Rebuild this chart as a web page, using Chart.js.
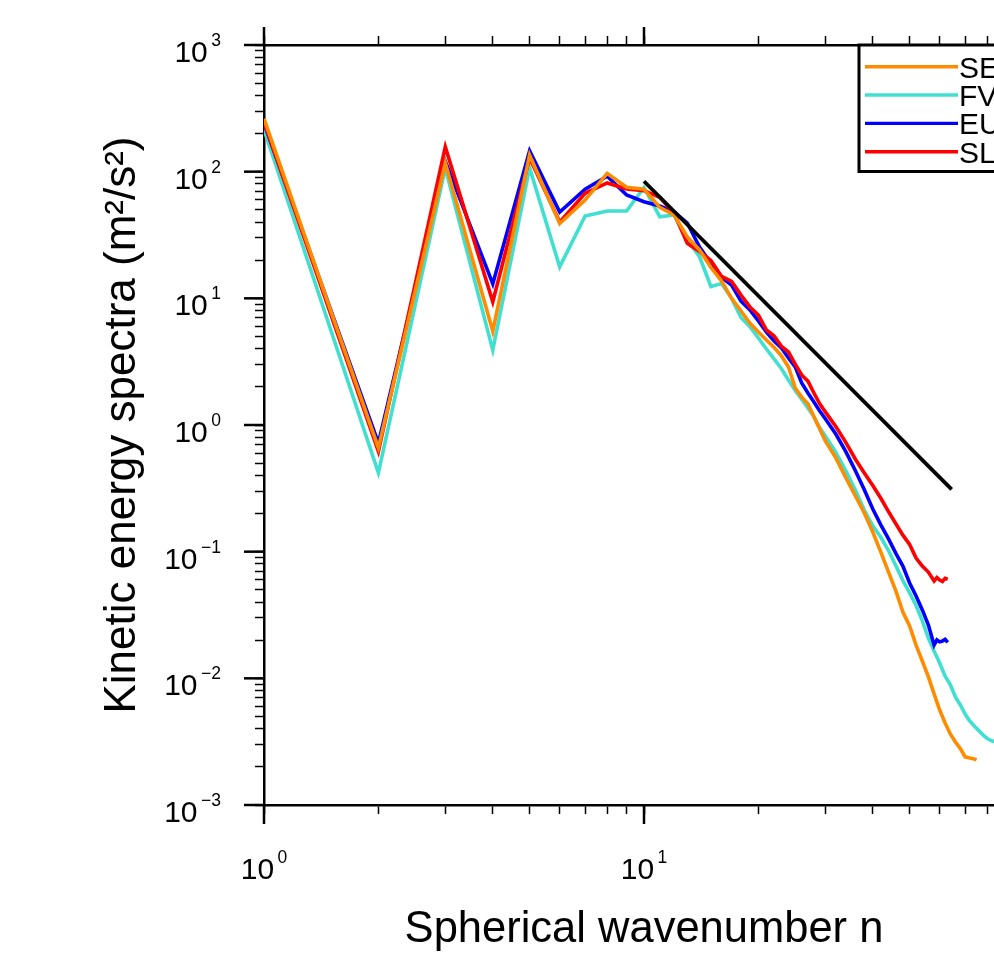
<!DOCTYPE html>
<html><head><meta charset="utf-8">
<script src="https://cdn.jsdelivr.net/npm/chart.js@4.4.1/dist/chart.umd.min.js"></script>
<style>html,body{margin:0;padding:0;overflow:hidden;background:#fff;width:994px;height:955px}canvas{display:block}</style>
</head><body>
<canvas id="c" width="1060" height="955" style="width:1060px;height:955px"></canvas>
<script>
// ---- data ----
const wavenumber = [1,2,3,4,5,6,7,8,9,10,11,12,13,14,15,16,17,18,19,20,21,22,23,24,25,26,27,28,29,30,
  32,34,36,38,40,42,44,46,48,50,52,54,56,58,59,60,61,62,63,64,66,68,70,72,74,75,76,78,80,82,84];
const seriesNames = ['SE','FV','EUL','SLD'];
const seriesColors = ['#FF8C00','#40E0D0','#0000FF','#FF0000'];
const seValues = [262,0.66,117,5.5,135,39,59.7,97,75.4,72.6,52.3,45.5,30.5,24.1,17.5,13.7,10.0,7.94,6.35,5.42,4.69,4.09,3.51,2.87,1.96,1.66,1.47,1.16,0.93,0.75,
  0.548,0.382,0.275,0.202,0.143,0.0993,0.069,0.049,0.0334,0.0259,0.0183,0.0137,0.0103,0.00753,null,0.00562,null,0.00444,null,0.00364,0.00314,0.00279,0.0024,0.00235,0.00231,0.00227,null,null,null,null,null];
const fvValues = [215,0.42,107,3.9,107,17.7,44.7,48.9,48.9,75,44.1,45.5,28.9,21.3,12.4,13.1,10.0,7.06,5.97,4.86,3.98,3.32,2.78,2.26,1.87,1.60,1.36,1.16,0.95,0.82,
  0.604,0.433,0.305,0.212,0.16,0.130,0.102,0.0774,0.0592,0.0472,0.0376,0.0284,0.0208,0.0164,null,0.0132,null,0.0104,null,0.0089,0.00713,0.00616,0.00522,0.0046,0.00421,null,0.00387,0.00357,0.00335,0.00323,0.00314];
const eulValues = [240,0.72,121,13.0,146,48,72.6,92,65.5,57.9,53.6,48.3,39.3,25.4,18.8,14.7,12.7,9.5,8.09,6.62,5.42,4.61,4.06,3.38,2.88,2.15,1.79,1.52,1.29,1.12,
  0.845,0.614,0.435,0.308,0.217,0.163,0.126,0.0969,0.077,0.0566,0.0447,0.0347,0.0265,0.0183,0.0201,0.0194,0.0197,0.0203,0.0192,null,null,null,null,null,null,null,null,null,null,null,null];
const sldValues = [245,0.62,157,9.4,128,40,67.5,81.5,73,70.8,62.8,46.9,27.2,23.4,19.9,14.9,13.6,10.6,8.55,7.38,5.62,5.04,4.18,3.77,3.03,2.48,2.22,1.79,1.47,1.27,
  0.97,0.726,0.537,0.418,0.333,0.264,0.207,0.166,0.135,0.114,0.089,0.077,0.069,0.0587,0.0625,0.0597,0.0581,0.0615,0.0605,null,null,null,null,null,null,null,null,null,null,null,null];
const refN = [10, 64.5];          // n^-3 reference line
const refValues = [84, 0.31];
const xDecades = [1, 10, 100];
const xTickExponents = ['0','1','2'];
const yDecades = [1e-3, 1e-2, 1e-1, 1, 10, 100, 1000];
const yTickExponents = ['\u22123','\u22122','\u22121','0','1','2','3'];
const xTitle = 'Spherical wavenumber n';
const yTitle = 'Kinetic energy spectra (m\u00B2/s\u00B2)';

// ---- helpers ----
const FAMILY = '"Liberation Sans", Arial, Helvetica, sans-serif';
function minorTicks(decades) {
  const out = [];
  for (let i = 0; i < decades.length - 1; i++) {
    for (let k = 1; k <= 9; k++) out.push(decades[i] * k);
  }
  out.push(decades[decades.length - 1]);
  return out;
}
const xMinor = minorTicks(xDecades);
const yMinor = minorTicks(yDecades);
function pts(values) { return wavenumber.map((n, i) => ({x: n, y: values[i]})); }

const allSeries = [seValues, fvValues, eulValues, sldValues];
const drawOrder = [1, 4, 3, 2];
const datasets = allSeries.map((vals, i) => ({
  label: seriesNames[i], data: pts(vals), borderColor: seriesColors[i], backgroundColor: seriesColors[i],
  borderWidth: 3.6, pointRadius: 0, spanGaps: true, tension: 0, order: drawOrder[i], fill: false
}));
datasets.push({label: 'ref', data: refN.map((n, i) => ({x: n, y: refValues[i]})), borderColor: '#000',
  borderWidth: 3.8, pointRadius: 0, tension: 0, order: 0, fill: false});

const gridOpts = {drawOnChartArea: false, drawTicks: true, tickLength: 9, tickWidth: 1.5, tickColor: '#000'};
const borderOpts = {display: true, color: '#000', width: 2.5};

const decor = {
  id: 'decor',
  afterDraw(chart) {
    const ctx = chart.ctx;
    const {left, right, top, bottom} = chart.chartArea;
    const sx = chart.scales.x, sy = chart.scales.y;
    ctx.save();
    ctx.strokeStyle = '#000'; ctx.lineWidth = 2.5; ctx.lineCap = 'butt';
    const seg = (a, b, c, d) => { ctx.beginPath(); ctx.moveTo(a, b); ctx.lineTo(c, d); ctx.stroke(); };
    xDecades.forEach(v => { const p = sx.getPixelForValue(v); seg(p, bottom, p, bottom + 19); seg(p, top, p, top - 18); });
    yDecades.forEach(v => { const p = sy.getPixelForValue(v); seg(left, p, left - 20, p); seg(right, p, right + 20, p); });
    // tick labels 10^k
    ctx.fillStyle = '#000'; ctx.textBaseline = 'alphabetic'; ctx.textAlign = 'left';
    const baseFont = '30px ' + FAMILY, supFont = '17.5px ' + FAMILY;
    const gap = 3.5;
    yDecades.forEach((v, i) => {
      const p = sy.getPixelForValue(v);
      ctx.font = supFont; const wE = ctx.measureText(yTickExponents[i]).width;
      ctx.font = baseFont; const wB = ctx.measureText('10').width;
      const xr = left - 43;
      ctx.fillText('10', xr - wE - gap - wB, p + 17);
      ctx.font = supFont; ctx.fillText(yTickExponents[i], xr - wE, p + 1);
    });
    xDecades.forEach((v, i) => {
      const p = sx.getPixelForValue(v);
      ctx.font = supFont; const wE = ctx.measureText(xTickExponents[i]).width;
      ctx.font = baseFont; const wB = ctx.measureText('10').width;
      const x0 = p - (wB + gap + wE) / 2;
      ctx.fillText('10', x0, bottom + 74);
      ctx.font = supFont; ctx.fillText(xTickExponents[i], x0 + wB + gap, bottom + 58);
    });
    // legend box
    const bx = right - 165, by = top, bw = 163, bh = 126.5;
    ctx.fillStyle = '#fff'; ctx.fillRect(bx, by, bw, bh);
    ctx.lineWidth = 3; ctx.strokeStyle = '#000'; ctx.strokeRect(bx, by, bw, bh);
    ctx.font = '30px ' + FAMILY;
    for (let i = 0; i < seriesNames.length; i++) {
      const yy = top + 21.7 + i * 28.33;
      ctx.strokeStyle = seriesColors[i]; ctx.lineWidth = 3.4;
      seg(bx + 6, yy, bx + 99, yy);
      ctx.fillStyle = '#000';
      ctx.fillText(seriesNames[i], bx + 100, yy + 11);
    }
    ctx.restore();
  }
};

new Chart(document.getElementById('c'), {
  type: 'line',
  data: {datasets},
  options: {
    responsive: false, animation: false, devicePixelRatio: 1,
    layout: {padding: 0},
    plugins: {legend: {display: false}, tooltip: {enabled: false}},
    events: [],
    scales: {
      x: {type: 'logarithmic', position: 'bottom', min: 1, max: 100,
        afterBuildTicks: s => { s.ticks = xMinor.map(v => ({value: v})); },
        afterFit: s => { s.height = 150; },
        ticks: {display: false}, grid: gridOpts, border: borderOpts,
        title: {display: true, text: xTitle, color: '#000', font: {family: FAMILY, size: 43.5, lineHeight: 1}, padding: {top: 0, bottom: 3}}},
      x2: {type: 'logarithmic', position: 'top', min: 1, max: 100,
        afterBuildTicks: s => { s.ticks = xMinor.map(v => ({value: v})); },
        afterFit: s => { s.height = 45; },
        ticks: {display: false}, grid: gridOpts, border: borderOpts},
      y: {type: 'logarithmic', position: 'left', min: 1e-3, max: 1e3,
        afterBuildTicks: s => { s.ticks = yMinor.map(v => ({value: v})); },
        afterFit: s => { s.width = 264; },
        ticks: {display: false}, grid: gridOpts, border: borderOpts,
        title: {display: true, text: yTitle, color: '#000', font: {family: FAMILY, size: 44, lineHeight: 1}, padding: {top: 101, bottom: 0}}},
      y2: {type: 'logarithmic', position: 'right', min: 1e-3, max: 1e3,
        afterBuildTicks: s => { s.ticks = yMinor.map(v => ({value: v})); },
        afterFit: s => { s.width = 36; },
        ticks: {display: false}, grid: gridOpts, border: borderOpts}
    }
  },
  plugins: [decor]
});
</script>
</body></html>
